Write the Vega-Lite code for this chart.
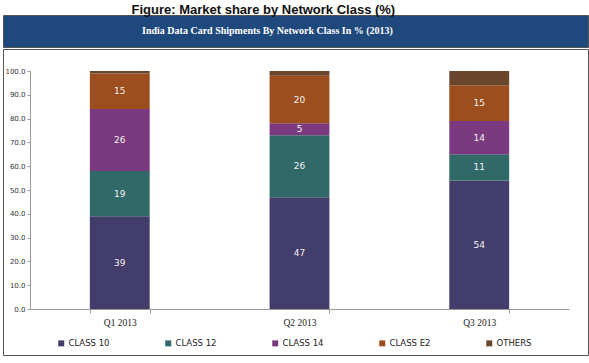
{
  "$schema": "https://vega.github.io/schema/vega-lite/v6.json",
  "background": "white",
  "padding": {"left": 2, "right": 2, "top": 3, "bottom": 6},
  "title": {"text": "Figure: Market share by Network Class (%)", "font": "Liberation Sans", "fontSize": 13, "fontWeight": "bold", "color": "#111111", "anchor": "start", "dx": 129, "offset": -2},
  "spacing": 0,
  "vconcat": [
    {
      "width": 585,
      "height": 32,
      "view": {"fill": "#1F497D", "stroke": "#555555"},
      "data": {"values": [{"t": "India Data Card Shipments By Network Class In % (2013)"}]},
      "mark": {"type": "text", "font": "Liberation Serif", "fontSize": 10, "fontWeight": "bold", "color": "white", "baseline": "middle", "align": "center", "dx": -28},
      "encoding": {"text": {"field": "t"}}
    },
    {
      "width": 585,
      "height": 306,
      "view": {"stroke": "#555555"},
      "data": {"values": [
        {"q": "Q1 2013", "cls": "CLASS 10", "v": 39},
        {"q": "Q1 2013", "cls": "CLASS 12", "v": 19},
        {"q": "Q1 2013", "cls": "CLASS 14", "v": 26},
        {"q": "Q1 2013", "cls": "CLASS E2", "v": 15},
        {"q": "Q1 2013", "cls": "OTHERS", "v": 1},
        {"q": "Q2 2013", "cls": "CLASS 10", "v": 47},
        {"q": "Q2 2013", "cls": "CLASS 12", "v": 26},
        {"q": "Q2 2013", "cls": "CLASS 14", "v": 5},
        {"q": "Q2 2013", "cls": "CLASS E2", "v": 20},
        {"q": "Q2 2013", "cls": "OTHERS", "v": 2},
        {"q": "Q3 2013", "cls": "CLASS 10", "v": 54},
        {"q": "Q3 2013", "cls": "CLASS 12", "v": 11},
        {"q": "Q3 2013", "cls": "CLASS 14", "v": 14},
        {"q": "Q3 2013", "cls": "CLASS E2", "v": 15},
        {"q": "Q3 2013", "cls": "OTHERS", "v": 6}
      ]},
      "encoding": {
        "x": {
          "field": "q", "type": "nominal",
          "scale": {"range": [27, 566], "paddingInner": 0.667, "paddingOuter": 0.333},
          "axis": {"title": null, "orient": "bottom", "offset": -46, "labelAngle": 0, "labelFont": "Liberation Serif", "labelFontSize": 9.5, "labelColor": "#222222", "labelPadding": 4, "domainColor": "#999999", "tickColor": "#999999", "tickBand": "extent", "tickSize": 4}
        },
        "y": {
          "field": "v", "type": "quantitative", "stack": "zero",
          "scale": {"domain": [0, 100], "range": [260, 22], "nice": false},
          "axis": {"title": null, "offset": -27, "values": [0, 10, 20, 30, 40, 50, 60, 70, 80, 90, 100], "format": ".1f", "labelFont": "DejaVu Sans", "labelFontSize": 7, "labelColor": "#333333", "domainColor": "#999999", "tickColor": "#999999", "tickSize": 3, "labelPadding": 2, "grid": false, "labelOverlap": false}
        },
        "order": {"field": "cls", "type": "nominal", "sort": "ascending"}
      },
      "layer": [
        {
          "mark": {"type": "bar"},
          "encoding": {
            "color": {
              "field": "cls", "type": "nominal",
              "scale": {"domain": ["CLASS 10", "CLASS 12", "CLASS 14", "CLASS E2", "OTHERS"], "range": ["#423D6B", "#316969", "#7B3A7F", "#9C4E1E", "#6A462C"]},
              "legend": {"orient": "none", "legendX": 54, "legendY": 324, "direction": "horizontal", "columns": 5, "gridAlign": "all", "columnPadding": 54, "title": null, "symbolType": "square", "symbolSize": 36, "symbolStrokeWidth": 0, "labelFont": "DejaVu Sans", "labelFontSize": 8.5, "labelColor": "#222222", "labelOffset": 3}
            }
          }
        },
        {
          "transform": [{"filter": "datum.cls !== 'OTHERS'"}],
          "mark": {"type": "text", "font": "DejaVu Sans", "fontSize": 9, "color": "#F2F2F2", "baseline": "middle", "align": "center"},
          "encoding": {
            "y": {"field": "v", "type": "quantitative", "stack": "zero", "bandPosition": 0.5},
            "detail": {"field": "cls", "type": "nominal"},
            "text": {"field": "v", "type": "quantitative"}
          }
        }
      ]
    }
  ]
}
